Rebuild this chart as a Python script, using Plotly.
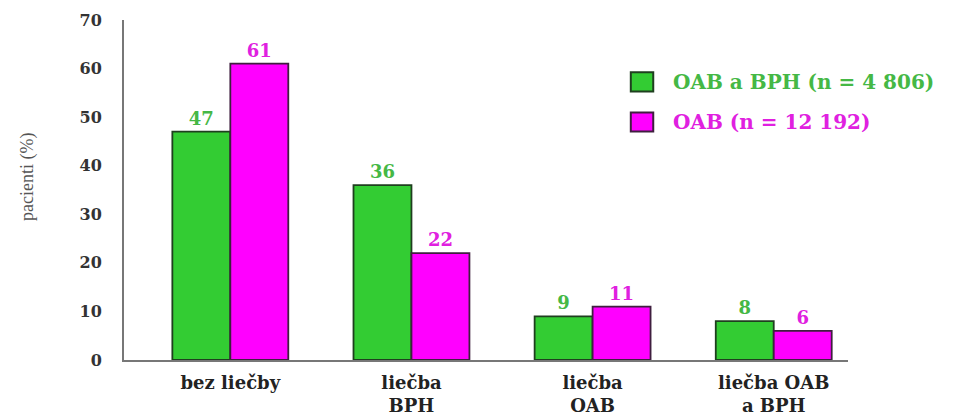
import plotly.graph_objects as go

# Kategórie liečby a podiely pacientov (%)
categories = ["bez liečby", "liečba<br>BPH", "liečba<br>OAB", "liečba OAB<br>a BPH"]
oab_bph = [47, 36, 9, 8]
oab_only = [61, 22, 11, 6]
series_names = ["OAB a BPH (n = 4 806)", "OAB (n = 12 192)"]
y_ticks = [0, 10, 20, 30, 40, 50, 60, 70]

green = "#33CC33"
magenta = "#FF00FF"
green_text = "#45B845"
magenta_text = "#E020E0"
serif = "DejaVu Serif, Liberation Serif, serif"

fig = go.Figure()
fig.add_trace(go.Bar(
    x=categories, y=oab_bph, name=series_names[0],
    marker=dict(color=green, line=dict(color="#1F3F1F", width=1.8)),
    text=[str(v) for v in oab_bph], textposition="outside",
    textfont=dict(color=green_text, size=18, family=serif, weight="bold"),
    cliponaxis=False,
))
fig.add_trace(go.Bar(
    x=categories, y=oab_only, name=series_names[1],
    marker=dict(color=magenta, line=dict(color="#3F1F3F", width=1.8)),
    text=[str(v) for v in oab_only], textposition="outside",
    textfont=dict(color=magenta_text, size=18, family=serif, weight="bold"),
    cliponaxis=False,
))

# Legenda: farebné štvorčeky a popisy sérií
legend_rows = [(green, "#1F3F1F", green_text, series_names[0], 0.818),
               (magenta, "#3F1F3F", magenta_text, series_names[1], 0.700)]
for fill, edge, tcol, label, yc in legend_rows:
    fig.add_shape(type="rect", xref="paper", yref="paper",
                  x0=0.700, x1=0.731, y0=yc - 0.028, y1=yc + 0.028,
                  fillcolor=fill, line=dict(color=edge, width=2))
    fig.add_annotation(xref="paper", yref="paper", x=0.755, y=yc,
                       xanchor="left", yanchor="middle", showarrow=False,
                       text=label, font=dict(size=20, family=serif, color=tcol, weight="bold"))

# Popis osi Y
fig.add_annotation(xref="paper", yref="paper", x=-0.134, y=0.538,
                   xanchor="center", yanchor="middle", showarrow=False, textangle=-90,
                   text="pacienti (%)", font=dict(size=18, family="Liberation Serif, serif", color="#555"))

fig.update_layout(
    width=959, height=415,
    margin=dict(l=124, r=111, t=20, b=55),
    paper_bgcolor="white", plot_bgcolor="white",
    barmode="group", bargap=0.36, bargroupgap=0,
    font=dict(family=serif, color="#222"),
    showlegend=False,
)
fig.update_xaxes(
    type="category", range=[-0.587, 3.41], automargin=False,
    showline=True, linecolor="#777", linewidth=2,
    ticks="", ticklabelstandoff=5,
    tickfont=dict(size=18, family=serif, color="#222", weight="bold"),
    showgrid=False,
)
fig.update_yaxes(
    range=[0, 70], tickvals=y_ticks, automargin=False,
    showline=True, linecolor="#777", linewidth=2,
    ticks="", ticklabelstandoff=17,
    tickfont=dict(size=16, family=serif, color="#333", weight="bold"),
    showgrid=False, zeroline=False,
)

fig.write_html("out.html")
